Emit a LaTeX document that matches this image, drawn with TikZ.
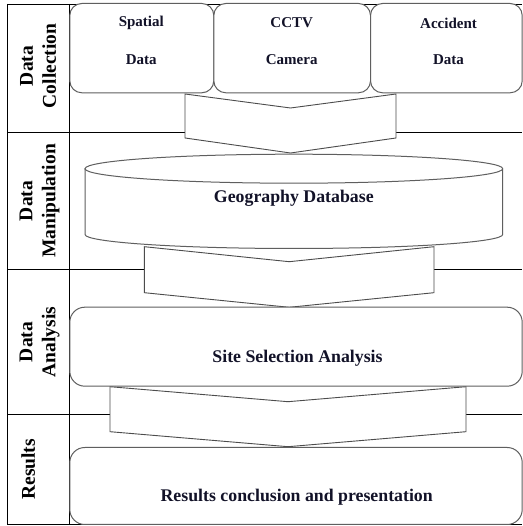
\documentclass[tikz,border=0pt]{standalone}
\usepackage{fontspec}
\setmainfont{Liberation Serif}
\definecolor{textc}{RGB}{18,18,40}
\definecolor{boxc}{RGB}{95,95,95}
\tikzset{
  grid/.style={draw=black, line width=0.8pt},
  boxshape/.style={draw=boxc, line width=1pt, fill=white},
  smallbox/.style={boxshape, rounded corners=12pt},
  bigbox/.style={boxshape, rounded corners=15pt},
  chev/.style={draw=boxc!80!black, line width=0.9pt, fill=white},
  smalltxt/.style={text=textc, font=\bfseries\fontsize{15}{18}\selectfont, inner sep=0pt},
  bigtxt/.style={text=textc, font=\bfseries\fontsize{17.8}{21}\selectfont, inner sep=0pt},
  sidetxt/.style={text=black, font=\bfseries\fontsize{19.5}{23}\selectfont, inner sep=0pt, rotate=90, align=center}
}
\begin{document}
\begin{tikzpicture}[x=1pt,y=1pt]
\useasboundingbox (0,0) rectangle (522,526);
\fill[white] (0,0) rectangle (522,526);
% table
\draw[grid] (7,522) -- (522,522);
\draw[grid] (7,522) -- (7,1.5) -- (522,1.5);
\draw[grid] (69.3,522) -- (69.3,1.5);
\draw[grid] (7,393.7) -- (522,393.7);
\draw[grid] (7,256.7) -- (522,256.7);
\draw[grid] (7,111.7) -- (522,111.7);
% side labels
\node[sidetxt] (lcol) at (38,460) {Data\\Collection};
\node[sidetxt] (lman) at (39.5,325) {Data\\Manipulation};
\node[sidetxt] (lana) at (39.5,184) {Data\\Analysis};
\node[sidetxt] (lres) at (28.3,56.7) {Results};
% chevrons
\draw[chev] (185,432) -- (290.5,418) -- (396,432) -- (396,388) -- (290.5,373) -- (185,388) -- cycle;
\draw[chev] (144.3,279.3) -- (289.2,264.3) -- (434,279.3) -- (434,233.3) -- (289.2,218.7) -- (144.3,233.3) -- cycle;
\draw[chev] (110,139.3) -- (288,124.3) -- (466,139.3) -- (466,94.3) -- (288,79.3) -- (110,94.3) -- cycle;
% small boxes
\node[smallbox, anchor=south west, minimum width=144pt, minimum height=89.3pt] (b1) at (69.3,432.7) {};
\node[smallbox, anchor=south west, minimum width=156.7pt, minimum height=89.3pt] (b2) at (213.3,432.7) {};
\node[smallbox, anchor=south west, minimum width=151.7pt, minimum height=89.3pt] (b3) at (370,432.7) {};
\node[smalltxt] (t1a) at (141.3,503) {Spatial};
\node[smalltxt] (t1b) at (141.3,466) {Data};
\node[smalltxt] (t2a) at (291.7,503) {CCTV};
\node[smalltxt] (t2b) at (291.7,466) {Camera};
\node[smalltxt] (t3a) at (448.5,503) {Accident};
\node[smalltxt] (t3b) at (448.5,466) {Data};
% cylinder
\draw[boxshape] (85,357.3) -- (85,291.5) arc[start angle=180, end angle=360, x radius=208.85, y radius=14]
  -- (502.7,357.3) arc[start angle=0, end angle=180, x radius=208.85, y radius=14.5] -- cycle;
\draw[draw=boxc, line width=1pt] (85,357.3) arc[start angle=180, end angle=360, x radius=208.85, y radius=14.5];
\node[bigtxt] (db) at (293.8,327.7) {Geography Database};
% big boxes
\node[bigbox, anchor=south west, minimum width=452.4pt, minimum height=79pt] (sa) at (69.3,139.3) {};
\node[bigtxt] (sat) at (297.5,167.7) {Site Selection Analysis};
\node[bigbox, anchor=south west, minimum width=452.4pt, minimum height=77pt] (rc) at (69.3,1) {};
\node[bigtxt] (rct) at (296.7,28.7) {Results conclusion and presentation};
\end{tikzpicture}
\end{document}
